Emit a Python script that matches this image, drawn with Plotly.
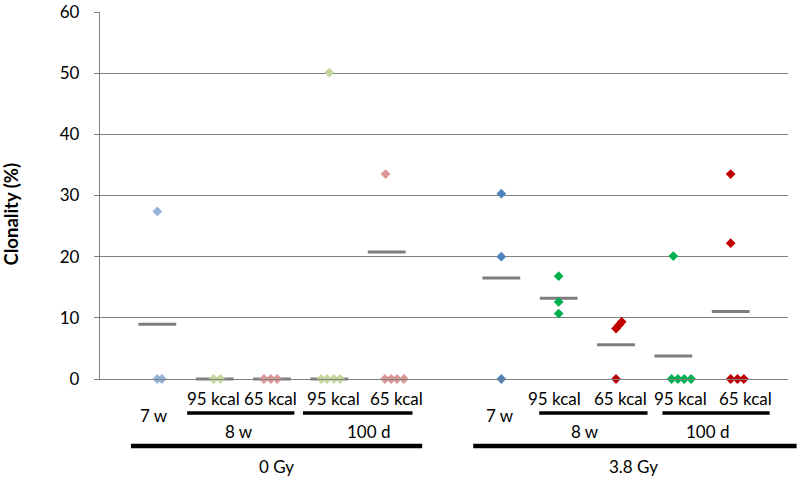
import plotly.graph_objects as go

# ---------------- data ----------------
GROUPS = ["0 Gy 7 w", "0 Gy 8 w 95 kcal", "0 Gy 8 w 65 kcal", "0 Gy 100 d 95 kcal", "0 Gy 100 d 65 kcal",
          "3.8 Gy 7 w", "3.8 Gy 8 w 95 kcal", "3.8 Gy 8 w 65 kcal", "3.8 Gy 100 d 95 kcal", "3.8 Gy 100 d 65 kcal"]
X_POS = [1, 2, 3, 4, 5, 7, 8, 9, 10, 11]

VALUES = [
    [27.4, 0, 0],
    [0, 0],
    [0, 0, 0],
    [50.1, 0, 0, 0, 0],
    [33.5, 0, 0, 0, 0],
    [30.3, 20.0, 0],
    [16.8, 12.6, 10.7],
    [9.35, 8.8, 8.25, 0],
    [20.1, 0, 0, 0, 0],
    [33.5, 22.2, 0, 0, 0],
]
# horizontal display offsets of overlapping points (x units)
JITTER = [
    [0, 0, 0.08],
    [-0.02, 0.10],
    [-0.14, -0.02, 0.09],
    [0, -0.14, -0.04, 0.08, 0.19],
    [-0.02, -0.03, 0.08, 0.18, 0.30],
    [0, 0, 0],
    [0, 0, 0],
    [0.10, 0.05, 0, 0],
    [0, -0.03, 0.08, 0.19, 0.31],
    [0, 0, 0, 0.12, 0.23],
]
MEANS = [8.95, 0, 0, 0, 20.75, 16.5, 13.2, 5.6, 3.75, 11.05]
COLORS = ["#95B3D7", "#C3D69B", "#D99694", "#C3D69B", "#D99694",
          "#4F81BD", "#00B050", "#C00000", "#00B050", "#C00000"]

Y_TICKS = [0, 10, 20, 30, 40, 50, 60]
Y_TITLE = "Clonality (%)"

# category-axis label rows (x in data units)
DIET_LABELS = ["95 kcal", "65 kcal", "95 kcal", "65 kcal", "95 kcal", "65 kcal", "95 kcal", "65 kcal"]
DIET_X = [1.98, 2.97, 4.08, 5.18, 7.92, 9.08, 10.12, 11.26]
TIME_LABELS = ["7 w", "8 w", "100 d", "7 w", "8 w", "100 d"]
TIME_X = [0.94, 2.43, 4.68, 6.98, 8.46, 10.59]
TIME_ROW = [0, 1, 1, 0, 1, 1]
TIME_SPANS = [(1.52, 3.39), (3.54, 5.45), (7.66, 9.55), (9.81, 11.68)]
DOSE_LABELS = ["0 Gy", "3.8 Gy"]
DOSE_X = [3.07, 9.30]
DOSE_SPANS = [(0.54, 5.62), (6.51, 12.15)]

X_RANGE = [0, 12]
FONT = "Lato, 'Open Sans', sans-serif"
GRID = "#808080"

# ---------------- figure ----------------
W, H = 800, 487
PLOT_L, PLOT_T, PLOT_W, PLOT_H = 100, 12, 688, 367   # plot box (px)
ML, MT = PLOT_L, PLOT_T
MR, MB = W - ML - PLOT_W, H - MT - PLOT_H
PLOT_B = PLOT_T + PLOT_H

def py(ypix):  # pixel row -> paper y
    return (PLOT_B - ypix) / PLOT_H

def px(xd):  # data x -> paper x
    return (xd - X_RANGE[0]) / (X_RANGE[1] - X_RANGE[0])

fig = go.Figure()

# mean bars
fig.add_trace(go.Scatter(
    x=X_POS, y=MEANS, mode="markers", hoverinfo="skip",
    marker=dict(symbol="line-ew-open", size=27, color="#7F7F7F",
                line=dict(color="#7F7F7F", width=3)),
    cliponaxis=False, showlegend=False))

# points
for g, xp, vals, jit, col in zip(GROUPS, X_POS, VALUES, JITTER, COLORS):
    fig.add_trace(go.Scatter(
        x=[xp + j for j in jit], y=vals, mode="markers", name=g,
        marker=dict(symbol="diamond", size=7.5, color=col, line=dict(width=0)),
        cliponaxis=False, showlegend=False))

annotations = []
shapes = []
LBL = dict(family=FONT, size=17, color="black")

for t, xd in zip(DIET_LABELS, DIET_X):
    annotations.append(dict(text=t, x=px(xd), y=py(398), xref="paper", yref="paper",
                            showarrow=False, xanchor="center", yanchor="middle", font=LBL))
for t, xd, r in zip(TIME_LABELS, TIME_X, TIME_ROW):
    annotations.append(dict(text=t, x=px(xd), y=py(415 if r == 0 else 431), xref="paper", yref="paper",
                            showarrow=False, xanchor="center", yanchor="middle", font=LBL))
for t, xd in zip(DOSE_LABELS, DOSE_X):
    annotations.append(dict(text=t, x=px(xd), y=py(466), xref="paper", yref="paper",
                            showarrow=False, xanchor="center", yanchor="middle", font=LBL))
for a, b in TIME_SPANS:
    shapes.append(dict(type="line", xref="paper", yref="paper", x0=px(a), x1=px(b),
                       y0=py(413), y1=py(413), line=dict(color="black", width=3.5)))
for a, b in DOSE_SPANS:
    shapes.append(dict(type="line", xref="paper", yref="paper", x0=px(a), x1=px(b),
                       y0=py(446), y1=py(446), line=dict(color="black", width=4.5)))

annotations.append(dict(text="<b>" + Y_TITLE + "</b>", x=(10.5 - PLOT_L) / PLOT_W, y=py(214),
                        xref="paper", yref="paper", showarrow=False, textangle=-90,
                        xanchor="center", yanchor="middle",
                        font=dict(family=FONT, size=18.5, color="black")))

fig.update_layout(
    width=W, height=H,
    margin=dict(l=ML, r=MR, t=MT, b=MB, pad=0, autoexpand=False),
    paper_bgcolor="white", plot_bgcolor="white",
    annotations=annotations, shapes=shapes,
    xaxis=dict(range=X_RANGE, showgrid=False, zeroline=False, showticklabels=False,
               ticks="", showline=True, linecolor=GRID, linewidth=1.3, fixedrange=True,
               automargin=False),
    yaxis=dict(range=[0, 60], tickvals=Y_TICKS, showgrid=True, gridcolor=GRID, gridwidth=1.3,
               zeroline=False, showline=True, linecolor=GRID, linewidth=1.3,
               ticks="outside", ticklen=5, tickcolor=GRID, tickwidth=1.3,
               ticklabelstandoff=11, automargin=False, ticklabeloverflow="allow",
               tickfont=dict(family=FONT, size=17, color="black"), fixedrange=True),
)

fig.write_html("out.html", config={"displayModeBar": False},
               post_script="document.body.style.margin='0';document.body.style.padding='0';")
